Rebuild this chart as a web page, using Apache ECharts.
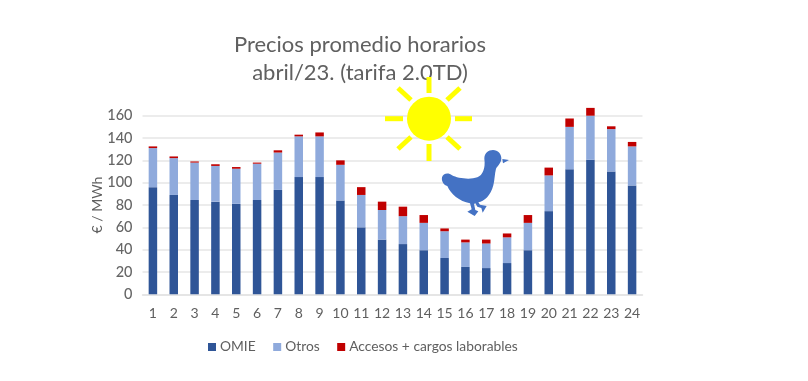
<!DOCTYPE html>
<html><head><meta charset="utf-8">
<style>html,body{margin:0;padding:0;background:#fff}#c{width:808px;height:381px;filter:blur(0.55px)}</style>
<script src="https://cdn.jsdelivr.net/npm/echarts@6/dist/echarts.min.js"></script>
</head><body><div id="c"></div>
<script>
const hours = ['1','2','3','4','5','6','7','8','9','10','11','12','13','14','15','16','17','18','19','20','21','22','23','24'];
const omie = [96,89,84.5,83,81,84.5,93.5,105,105,84,60,49,45,39.5,32.5,24.5,23.5,28,39.5,74.5,112,120.5,110,97.5];
const otros = [35,33,33.5,32,31.5,32.5,33.5,36.5,36.5,32,29,26.5,25,24.5,24,22,22,23,24.5,32,38,39.5,38,35];
const accesos = [1.5,1.5,1,1.5,1.5,1,2,1.5,3.5,4,7,7.5,8.5,7,2.5,2.5,3.5,3.5,7,7,7.5,7,2.5,4];
const titleLines = ['Precios promedio horarios','abril/23. (tarifa 2.0TD)'];
const FONT = 'Lato';
const GREY = '#5f5f5f';
const duck = 'M343 266 C343 250 355 240 369 240 C384 240 394 252 394 265 C394 278 385 286 378 296 C374 312 374 330 370 346 C362 378 342 394 325 397 L330 404 L350 408 L338 428 L334 414 L322 410 L316 400 L312 402 L316 420 L325 424 L314 438 L292 425 L305 418 L300 400 C268 394 242 372 232 348 C220 345 214 333 216 322 C219 310 235 306 246 316 C262 325 300 330 322 322 C338 315 347 295 343 266 Z M397 267 L417 270 L399 280 Z';
echarts.graphic.registerShape('duck', echarts.graphic.extendPath(duck, {}));
const chart = echarts.init(document.getElementById('c'), null, {renderer:'canvas'});
const ray = (x1,y1,x2,y2)=>({type:'line',shape:{x1,y1,x2,y2},style:{stroke:'#ffff00',lineWidth:5},z:20});
chart.setOption({
  animation:false,
  title:{text:titleLines.join('\n'),left:355,top:26,textAlign:'center',
    textStyle:{fontFamily:FONT,fontSize:22,fontWeight:'normal',color:'#606060',lineHeight:28}},
  legend:{left:203,top:335,itemWidth:8,itemHeight:8,itemGap:17.5,icon:'rect',
    textStyle:{fontFamily:FONT,fontSize:13.8,color:GREY,padding:[0,0,0,-1]},
    data:['OMIE','Otros','Accesos + cargos laborables']},
  grid:{left:142.5,right:165.5,top:115.7,bottom:86.7},
  xAxis:{type:'category',data:hours,
    axisLine:{lineStyle:{color:'#e2e2e2',width:1.5}},axisTick:{show:false},
    axisLabel:{fontFamily:FONT,fontSize:14,color:GREY,margin:12,interval:0}},
  yAxis:{type:'value',min:0,max:160,interval:20,name:'€ / MWh',nameLocation:'middle',nameGap:38,nameMoveOverlap:false,
    nameTextStyle:{fontFamily:FONT,fontSize:14,color:GREY},
    axisLine:{show:false},axisTick:{show:false},
    axisLabel:{fontFamily:FONT,fontSize:14.5,fontWeight:500,color:'#666666',margin:10},
    splitLine:{lineStyle:{color:'#e6e6e6',width:1.5}}},
  series:[
    {name:'OMIE',type:'bar',stack:'t',barWidth:8.5,clip:false,data:omie,itemStyle:{color:'#2f5597'}},
    {name:'Otros',type:'bar',stack:'t',clip:false,data:otros,itemStyle:{color:'#8faadc'}},
    {name:'Accesos + cargos laborables',type:'bar',stack:'t',clip:false,data:accesos,itemStyle:{color:'#c00000'}}
  ],
  graphic:[
    {type:'circle',shape:{cx:429,cy:118.7,r:22},style:{fill:'#ffff00'},z:20},
    ray(429,77,429,93),ray(429,144,429,161),
    ray(385,118.7,403,118.7),ray(455,118.7,472,118.7),
    ray(398,88,411,100),ray(460,88,447,100),
    ray(398,149,411,137),ray(460,149,447,137),
    {type:'duck',x:370,y:70,scaleX:1/3,scaleY:1/3,style:{fill:'#4472c4'},z:20}
  ]
});
</script></body></html>
